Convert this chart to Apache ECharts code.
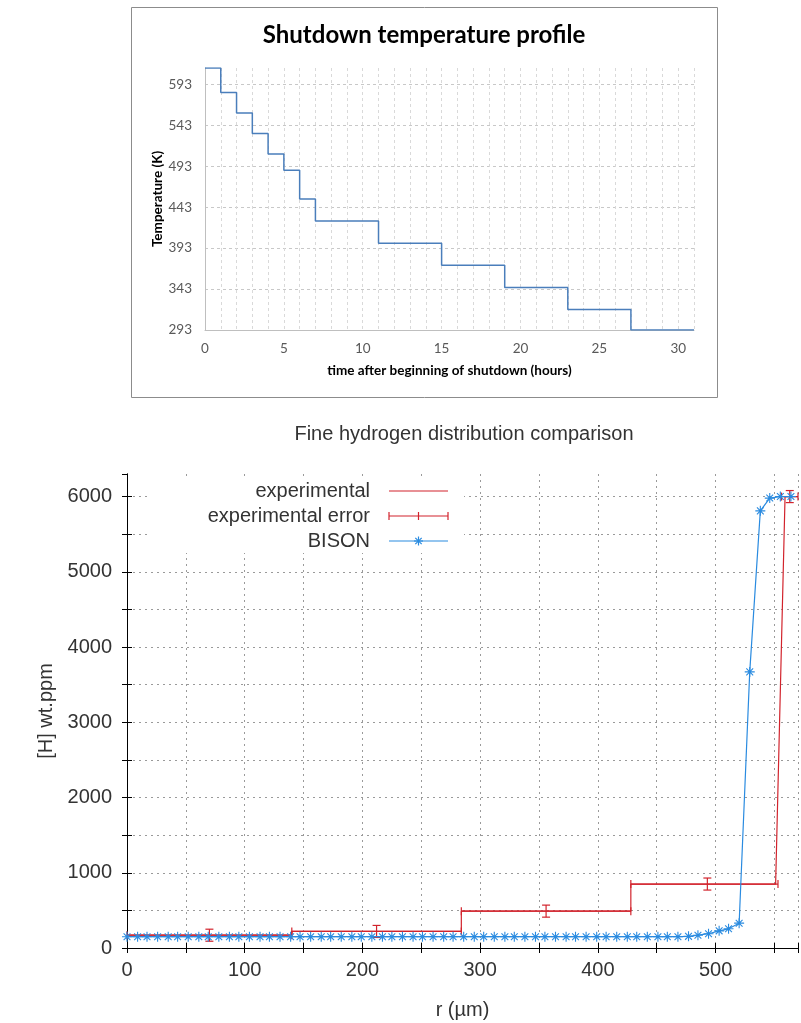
<!DOCTYPE html>
<html>
<head>
<meta charset="utf-8">
<script src="https://cdn.jsdelivr.net/npm/echarts@6/dist/echarts.min.js"></script>
<style>
  html, body { margin: 0; padding: 0; background: #fff; }
  #chart { width: 801px; height: 1023px; }
</style>
</head>
<body>
<div id="chart"></div>
<script>
// shutdown profile: each temperature holds until the next time
const shutdownHours = [0, 1, 2, 3, 4, 5, 6, 7, 11, 15, 19, 23, 27, 31];
const shutdownTemps = [613, 583, 558, 533, 508, 488, 453, 426, 399, 372, 345, 318, 293, 293];
const tempTicks = [293, 343, 393, 443, 493, 543, 593];

// experimental profile (r in um, H in wt.ppm)
const expR = [0, 140, 140, 284, 284, 428, 428, 551, 559, 570];
const expH = [170, 170, 220, 220, 490, 490, 850, 850, 6000, 6000];

// experimental error bars
const errR = [70, 212, 356, 493, 563];
const errH = [170, 220, 490, 850, 6000];
const errRLow = [0, 140, 284, 428, 556];
const errRHigh = [140, 284, 428, 553, 570];
const errHLow = [90, 140, 410, 770, 5920];
const errHHigh = [250, 300, 570, 930, 6080];

// BISON prediction
const bisonR = [0, 9, 17, 26, 35, 43, 52, 61, 69, 78, 87, 95, 104, 113, 121, 130, 139, 147, 156, 165,
  173, 182, 191, 199, 208, 217, 225, 234, 243, 251, 260, 269, 277, 286, 295, 303, 312, 321, 329, 338,
  347, 355, 364, 373, 381, 390, 399, 407, 416, 425, 433, 442, 451, 459, 468, 477, 485, 494, 503, 511,
  520, 529, 538, 546, 555, 564];
const bisonH = [150, 150, 150, 150, 150, 150, 150, 150, 150, 150, 150, 150, 150, 150, 150, 150, 150, 150, 150, 150,
  150, 150, 150, 150, 150, 150, 150, 150, 150, 150, 150, 150, 150, 150, 150, 150, 150, 150, 150, 150,
  150, 150, 150, 150, 150, 150, 150, 150, 150, 150, 150, 150, 150, 150, 150, 155, 170, 190, 228, 255,
  330, 3670, 5810, 5980, 6000, 6000];

const expColor = "#d2232c";
const bisonColor = "#2a8be0";
const gnuFont = "Liberation Sans";
const xlFont = "Lato";

const chart = echarts.init(document.getElementById("chart"));

const star = "path://M0,5 L10,5 M5,0 L5,10 M1.6,1.6 L8.4,8.4 M1.6,8.4 L8.4,1.6";

function seg(x1, y1, x2, y2, color, z) {
  return { type: "line", z: z || 100, shape: { x1, y1, x2, y2 }, style: { stroke: color, lineWidth: 1.2 } };
}

function renderErrorBar(params, api) {
  const c = api.coord([api.value(0), api.value(1)]);
  const l = api.coord([api.value(2), api.value(1)]);
  const r = api.coord([api.value(3), api.value(1)]);
  const lo = api.coord([api.value(0), api.value(4)]);
  const hi = api.coord([api.value(0), api.value(5)]);
  const cap = 4;
  const style = { stroke: expColor, lineWidth: 1.2 };
  const mk = (x1, y1, x2, y2) => ({ type: "line", shape: { x1, y1, x2, y2 }, style });
  return {
    type: "group",
    children: [
      mk(l[0], c[1], r[0], c[1]),
      mk(l[0], c[1] - cap, l[0], c[1] + cap),
      mk(r[0], c[1] - cap, r[0], c[1] + cap),
      mk(c[0], lo[1], c[0], hi[1]),
      mk(c[0] - cap, lo[1], c[0] + cap, lo[1]),
      mk(c[0] - cap, hi[1], c[0] + cap, hi[1])
    ]
  };
}

// legend rows (gnuplot style key, text left of sample)
const keyTextX = 370, keyX1 = 389, keyX2 = 448, keyMid = 418.5;
const keyRows = [491, 516, 541];
const keyText = (text, y) => ({
  type: "text", z: 101, x: keyTextX, y,
  style: { text, fill: "#333", font: "20px " + gnuFont, textAlign: "right", textVerticalAlign: "middle" }
});

chart.setOption({
  animation: false,
  backgroundColor: "#fff",
  title: [
    {
      text: "Shutdown temperature profile",
      left: 424, top: 35, padding: 0,
      textAlign: "center", textVerticalAlign: "middle",
      textStyle: { fontFamily: xlFont, fontWeight: "bold", fontSize: 24, color: "#000" }
    },
    {
      text: "Fine hydrogen distribution comparison",
      left: 464, top: 434, padding: 0,
      textAlign: "center", textVerticalAlign: "middle",
      textStyle: { fontFamily: gnuFont, fontWeight: "normal", fontSize: 20, color: "#333" }
    }
  ],
  grid: [
    { left: 205, top: 68, width: 489, height: 262 },
    { left: 127, top: 474, width: 675, height: 474 }
  ],
  xAxis: [
    {
      gridIndex: 0, type: "value", min: 0, max: 31, interval: 1,
      name: "time after beginning of shutdown (hours)", nameLocation: "middle", nameGap: 34,
      nameTextStyle: { fontFamily: xlFont, fontWeight: "bold", fontSize: 13.5, color: "#000" },
      axisLine: { show: true, lineStyle: { color: "#bfbfbf" } },
      axisTick: { show: false },
      axisLabel: {
        margin: 12, color: "#595959", fontFamily: xlFont, fontSize: 13.5,
        formatter: (v) => (v % 5 === 0 ? String(v) : "")
      },
      splitLine: { show: true, lineStyle: { color: "#d9d9d9", type: [3, 3] } }
    },
    {
      gridIndex: 1, type: "value", min: 0, max: 570, interval: 50,
      name: "r (µm)", nameLocation: "middle", nameGap: 52,
      nameTextStyle: { fontFamily: gnuFont, fontSize: 20, color: "#333" },
      axisLine: { show: true, lineStyle: { color: "#000", width: 1 } },
      axisTick: { show: true, inside: true, length: 5, lineStyle: { color: "#000" } },
      axisLabel: {
        margin: 12, color: "#333", fontFamily: gnuFont, fontSize: 20,
        formatter: (v) => (v % 100 === 0 ? String(v) : "")
      },
      splitLine: { show: true, lineStyle: { color: "#9a9a9a", type: [2, 4] } }
    },
    {
      gridIndex: 1, type: "value", min: 0, max: 570, interval: 50, position: "top",
      axisLine: { show: true, lineStyle: { color: "#000", width: 1 } },
      axisTick: { show: true, inside: true, length: 5, lineStyle: { color: "#000" } },
      axisLabel: { show: false },
      splitLine: { show: false }
    }
  ],
  yAxis: [
    {
      gridIndex: 0, type: "value", min: 293, max: 613, interval: 50,
      name: "Temperature (K)", nameLocation: "middle", nameGap: 40, nameMoveOverlap: false,
      nameTextStyle: { fontFamily: xlFont, fontWeight: "bold", fontSize: 13.5, color: "#000" },
      axisLine: { show: true, lineStyle: { color: "#bfbfbf" } },
      axisTick: { show: false },
      axisLabel: {
        margin: 13, color: "#595959", fontFamily: xlFont, fontSize: 13.5, showMaxLabel: false,
        formatter: (v) => (tempTicks.includes(v) ? String(v) : "")
      },
      splitLine: { show: true, showMaxLine: false, lineStyle: { color: "#c8c8c8", type: [3, 3] } }
    },
    {
      gridIndex: 1, type: "value", min: 0, max: 6300, interval: 500,
      name: "[H] wt.ppm", nameLocation: "middle", nameGap: 69,
      nameTextStyle: { fontFamily: gnuFont, fontSize: 20, color: "#333" },
      axisLine: { show: true, lineStyle: { color: "#000", width: 1 } },
      axisTick: { show: true, inside: true, length: 5, lineStyle: { color: "#000" } },
      axisLabel: {
        margin: 15, color: "#333", fontFamily: gnuFont, fontSize: 20, showMaxLabel: false,
        formatter: (v) => (v % 1000 === 0 ? String(v) : "")
      },
      splitLine: { show: true, showMaxLine: false, lineStyle: { color: "#9a9a9a", type: [2, 4] } }
    },
    {
      gridIndex: 1, type: "value", min: 0, max: 6300, interval: 500, position: "right",
      axisLine: { show: true, lineStyle: { color: "#000", width: 1 } },
      axisTick: { show: true, inside: true, length: 5, lineStyle: { color: "#000" } },
      axisLabel: { show: false },
      splitLine: { show: false }
    }
  ],
  graphic: [
    {
      type: "rect", z: 0, shape: { x: 131.5, y: 7.5, width: 586, height: 390 },
      style: { fill: "none", stroke: "#8c8c8c", lineWidth: 1 }
    },
    {
      type: "rect", z: 99, shape: { x: 148, y: 480, width: 316, height: 73 },
      style: { fill: "#fff" }
    },
    keyText("experimental", keyRows[0]),
    keyText("experimental error", keyRows[1]),
    keyText("BISON", keyRows[2]),
    seg(keyX1, keyRows[0], keyX2, keyRows[0], expColor),
    seg(keyX1, keyRows[1], keyX2, keyRows[1], expColor),
    seg(keyX1, keyRows[1] - 4, keyX1, keyRows[1] + 4, expColor),
    seg(keyMid, keyRows[1] - 4, keyMid, keyRows[1] + 4, expColor),
    seg(keyX2, keyRows[1] - 4, keyX2, keyRows[1] + 4, expColor),
    seg(keyX1, keyRows[2], keyX2, keyRows[2], bisonColor),
    seg(keyMid - 4.5, keyRows[2], keyMid + 4.5, keyRows[2], bisonColor),
    seg(keyMid, keyRows[2] - 4.5, keyMid, keyRows[2] + 4.5, bisonColor),
    seg(keyMid - 3.2, keyRows[2] - 3.2, keyMid + 3.2, keyRows[2] + 3.2, bisonColor),
    seg(keyMid - 3.2, keyRows[2] + 3.2, keyMid + 3.2, keyRows[2] - 3.2, bisonColor)
  ],
  series: [
    {
      name: "Shutdown temperature",
      type: "line", xAxisIndex: 0, yAxisIndex: 0, step: "end",
      data: shutdownHours.map((h, i) => [h, shutdownTemps[i]]),
      showSymbol: false,
      lineStyle: { color: "#4a7ebb", width: 1.5 }
    },
    {
      name: "experimental",
      type: "line", xAxisIndex: 1, yAxisIndex: 1,
      data: expR.map((r, i) => [r, expH[i]]),
      showSymbol: false,
      lineStyle: { color: expColor, width: 1.2 }
    },
    {
      name: "experimental error",
      type: "custom", xAxisIndex: 1, yAxisIndex: 1,
      dimensions: ["r", "h", "rLow", "rHigh", "hLow", "hHigh"],
      encode: { x: [0, 2, 3], y: [1, 4, 5] },
      data: errR.map((r, i) => [r, errH[i], errRLow[i], errRHigh[i], errHLow[i], errHHigh[i]]),
      renderItem: renderErrorBar
    },
    {
      name: "BISON",
      type: "line", xAxisIndex: 1, yAxisIndex: 1,
      data: bisonR.map((r, i) => [r, bisonH[i]]),
      symbol: star, symbolSize: 10,
      itemStyle: { color: bisonColor, borderColor: bisonColor, borderWidth: 1.1 },
      lineStyle: { color: bisonColor, width: 1.2 },
      z: 3
    }
  ]
});
</script>
</body>
</html>
